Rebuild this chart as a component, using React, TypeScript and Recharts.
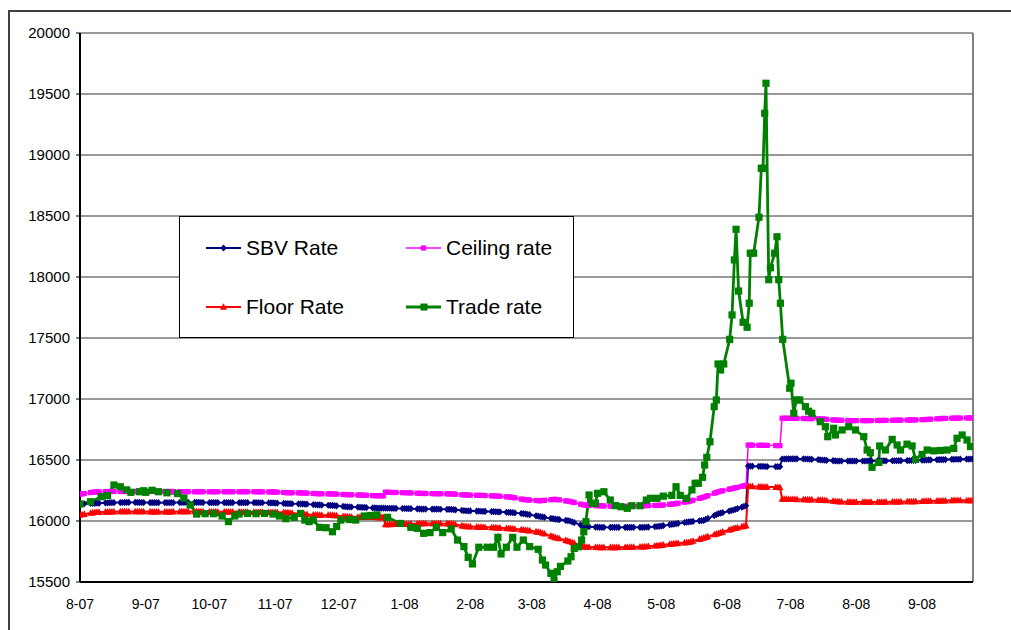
import React from 'react';
import { LineChart, Line, XAxis, YAxis, CartesianGrid, ReferenceLine } from 'recharts';

// ---- tick labels ----
const monthTicks = [0, 31, 61, 92, 122, 153, 184, 213, 244, 274, 305, 335, 366, 397];
const monthLabels = ['8-07', '9-07', '10-07', '11-07', '12-07', '1-08', '2-08', '3-08', '4-08', '5-08', '6-08', '7-08', '8-08', '9-08'];
const valueTicks = [15500, 16000, 16500, 17000, 17500, 18000, 18500, 19000, 19500, 20000];

// ---- band series (days since 1 Aug 2007) ----
const bandDays = [
  0, 7, 14, 21, 28, 35, 42, 49, 56, 63, 70, 77, 84, 91, 98, 105, 112, 119, 126, 133, 140,
  143, 144, 147, 154, 161, 168, 175, 182, 189, 196, 203, 210, 217, 224, 231, 238, 245, 252,
  259, 266, 273, 280, 287, 294, 301, 308, 314, 315, 322, 330, 331, 336, 343, 350, 357, 364,
  371, 378, 385, 392, 399, 406, 413, 420,
];
const sbvRate = [
  16140, 16145, 16150, 16152, 16152, 16150, 16150, 16152, 16152, 16150, 16150, 16150, 16150, 16148, 16142, 16140, 16132, 16128, 16116, 16112, 16106,
  16105, 16105, 16104, 16102, 16098, 16097, 16095, 16084, 16080, 16076, 16070, 16058, 16036, 16016, 16000, 15955, 15948, 15948,
  15948, 15948, 15956, 15975, 15993, 16005, 16060, 16090, 16125, 16450, 16447, 16445, 16508, 16510, 16508, 16500, 16492, 16492,
  16492, 16493, 16494, 16496, 16500, 16503, 16506, 16508,
];
const ceilingRate = [
  16220, 16238, 16242, 16242, 16242, 16242, 16242, 16240, 16240, 16240, 16240, 16240, 16240, 16238, 16232, 16230, 16224, 16222, 16216, 16212, 16207,
  16206, 16236, 16234, 16232, 16226, 16224, 16222, 16213, 16210, 16205, 16196, 16174, 16166, 16178, 16160, 16130, 16125, 16120,
  16120, 16126, 16128, 16140, 16160, 16195, 16240, 16268, 16292, 16622, 16620, 16618, 16842, 16842, 16840, 16836, 16826, 16823,
  16823, 16824, 16826, 16828, 16832, 16840, 16843, 16845,
];
const floorRate = [
  16050, 16072, 16076, 16078, 16078, 16076, 16076, 16078, 16078, 16076, 16076, 16074, 16073, 16072, 16070, 16056, 16050, 16048, 16036, 16032, 16030,
  16030, 15972, 15973, 15975, 15980, 15980, 15978, 15956, 15950, 15946, 15938, 15926, 15908, 15866, 15832, 15788, 15784, 15784,
  15785, 15790, 15800, 15815, 15826, 15862, 15900, 15938, 15962, 16285, 16280, 16276, 16180, 16178, 16176, 16172, 16160, 16156,
  16155, 16156, 16158, 16160, 16163, 16166, 16170, 16168,
];

// ---- trade rate ----
const tradeDays = [
  0, 5, 10, 13, 16, 19, 22, 24, 28, 30, 31, 34, 37, 41, 46, 49, 52, 55, 59, 63, 67, 70, 73, 75, 79, 83, 87, 91, 94, 97,
  101, 104, 106, 108, 110, 113, 116, 119, 121, 123, 127, 130, 134, 137, 140, 145, 151, 156, 159, 162, 165, 168, 171, 175,
  178, 181, 183, 185, 188, 192, 195, 197, 198.5, 201, 204, 206, 209, 212, 216, 218, 219.5, 222, 223.5, 225, 226.5, 230,
  231.5, 233, 235, 236.5, 237.5, 238.5, 240, 241.5, 243, 244, 247, 250, 252.5, 255, 258, 260, 264, 267, 269, 272, 275, 279,
  281, 283, 286, 288.5, 290, 291.5, 293.5, 294.5, 295.5, 297, 299, 300, 300.8, 302, 303.5, 306.3, 307.4, 308.5, 309.3,
  310.5, 312.6, 314.5, 315.5, 316, 317.6, 320.1, 321.2, 322, 322.8, 323.4, 324.7, 325.5, 327.5, 328.6, 329.4, 330.2, 331.3,
  334.6, 335.2, 336.5, 337.7, 339.3, 342, 343.5, 345, 349, 351.4, 352.5, 355.3, 356.1, 359.3, 362.4, 365.6, 369.5, 371.1,
  372.6, 373.4, 376.6, 377, 379.7, 382.9, 385.2, 386.8, 389.9, 392.3, 393.9, 397, 399.4, 402.5, 405.7, 408.8, 411.9, 413.5,
  415.9, 418.2, 419.8,
];
const tradeRate = [
  16139, 16158, 16199, 16210, 16295, 16281, 16255, 16235, 16240, 16248, 16235, 16252, 16240, 16231, 16225, 16188, 16131, 16057, 16060, 16060, 16041, 15995, 16041, 16057, 16062, 16060, 16062, 16057, 16041, 16019,
  16030, 16062, 16008, 15995, 16008, 15948, 15945, 15912, 15955, 16008, 16012, 16008, 16041, 16045, 16050, 16030, 15980, 15948, 15940, 15899, 15905, 15948, 15905, 15935,
  15844, 15790, 15702, 15648, 15785, 15785, 15785, 15866, 15730, 15785, 15866, 15785, 15844, 15790, 15768, 15680, 15639, 15571, 15511, 15584, 15628, 15672,
  15707, 15775, 15789, 15844, 15912, 15994, 16213, 16145, 16145, 16227, 16240, 16172, 16126, 16117, 16104, 16125, 16125, 16172, 16186, 16186, 16204, 16210,
  16281, 16210, 16185, 16255, 16309, 16309, 16358, 16459, 16522, 16650, 16937, 16992, 17287, 17238, 17287, 17489, 17689, 18140, 18391,
  17885, 17629, 17588, 17785, 18195, 18195, 18490, 18891, 18891, 19342, 19588, 17978, 18076, 18195, 18330, 17978, 17785, 17489,
  17088, 17130, 16883, 16992, 16992, 16937, 16900, 16883, 16814, 16773, 16691, 16760, 16705, 16746, 16773, 16746, 16691, 16582,
  16560, 16440, 16480, 16615, 16582, 16669, 16623, 16582, 16630, 16615, 16505, 16546, 16582, 16575, 16578, 16582, 16595, 16678,
  16705, 16664, 16610,
];

// ---- layout ----
const CHART_W = 1011;
const CHART_H = 630;
const PLOT_LEFT = 80;
const PLOT_TOP = 33;
const PLOT_RIGHT = 973;
const PLOT_BOTTOM = 582;
const X_MIN = 0;
const X_MAX = 421;
const Y_MIN = 15500;
const Y_MAX = 20000;
const PX_PER_UNIT = (PLOT_BOTTOM - PLOT_TOP) / (Y_MAX - Y_MIN);

const NAVY = '#000080';
const MAGENTA = '#FF00FF';
const RED = '#FF0000';
const GREEN = '#008000';

const toRows = (days: number[], values: number[]) => days.map((d, i) => ({ day: d, value: values[i] }));
const sbvData = toRows(bandDays, sbvRate);
const ceilingData = toRows(bandDays, ceilingRate);
const floorData = toRows(bandDays, floorRate);
const tradeData = toRows(tradeDays, tradeRate);

type Shape = 'diamond' | 'square' | 'triangle';

function marker(shape: Shape, x: number, y: number, color: string, key: string) {
  if (shape === 'diamond') {
    return <path key={key} d={`M${x},${y - 3.6}L${x + 3.2},${y}L${x},${y + 3.6}L${x - 3.2},${y}Z`} fill={color} />;
  }
  if (shape === 'square') {
    return <rect key={key} x={x - 2.6} y={y - 2.6} width={5.2} height={5.2} fill={color} />;
  }
  return <path key={key} d={`M${x},${y - 3.8}L${x + 3.5},${y + 2.8}L${x - 3.5},${y + 2.8}Z`} fill={color} />;
}

// each weekly reading is drawn as the cluster of daily markers around it
const makeClusterDot = (values: number[], shape: Shape, color: string) => (props: any) => {
  const { cx, cy, index } = props;
  if (cx == null || cy == null || isNaN(cx) || isNaN(cy)) return <g key={`e-${index}`} />;
  const pxPerDay = (PLOT_RIGHT - PLOT_LEFT) / (X_MAX - X_MIN);
  const day = bandDays[index];
  const prevGap = index > 0 ? day - bandDays[index - 1] : Infinity;
  const nextGap = index < bandDays.length - 1 ? bandDays[index + 1] - day : Infinity;
  const items: React.ReactNode[] = [];
  for (let o = -2; o <= 2; o++) {
    const d = day + o;
    if (d < X_MIN || d > X_MAX) continue;
    if (o < 0 && !(-o < prevGap / 2)) continue;
    if (o > 0 && !(o < nextGap / 2)) continue;
    let y = cy;
    if (o < 0 && index > 0) y = cy - (values[index - 1] - values[index]) * PX_PER_UNIT * (-o / prevGap);
    if (o > 0 && index < values.length - 1) y = cy - (values[index + 1] - values[index]) * PX_PER_UNIT * (o / nextGap);
    items.push(marker(shape, cx + o * pxPerDay, y, color, `m${o}`));
  }
  return <g key={`c-${index}`}>{items}</g>;
};

const tradeDot = (props: any) => {
  const { cx, cy, index } = props;
  if (cx == null || cy == null || isNaN(cx) || isNaN(cy)) return <g key={`t-${index}`} />;
  return <rect key={`t-${index}`} x={cx - 3.6} y={cy - 3.6} width={7.2} height={7.2} fill={GREEN} />;
};

const labelFor = (v: number) => {
  const i = monthTicks.indexOf(v);
  return i >= 0 ? monthLabels[i] : '';
};

const FONT = '"Liberation Sans", Arial, Helvetica, sans-serif';

function LegendItem({ left, top, color, shape, lineWidth, label, big }: any) {
  return (
    <div style={{ position: 'absolute', left, top: top - 14, height: 28, display: 'flex', alignItems: 'center' }}>
      <svg width={36} height={14} style={{ display: 'block' }}>
        <line x1={0} y1={7} x2={35} y2={7} stroke={color} strokeWidth={lineWidth} />
        {big ? (
          <rect x={14.5} y={3.5} width={7} height={7} fill={color} />
        ) : (
          marker(shape, 17.5, 7, color, 'lg')
        )}
      </svg>
      <span style={{ marginLeft: 4, fontSize: 21, color: '#000', fontFamily: FONT, whiteSpace: 'nowrap' }}>{label}</span>
    </div>
  );
}

export default function App() {
  return (
    <div style={{ position: 'fixed', left: 0, top: 0, width: CHART_W, height: CHART_H, overflow: 'hidden', background: '#fff', fontFamily: FONT }}>
      <div style={{ position: 'absolute', left: 8, top: 10, width: 1040, height: 660, border: '2px solid #404040', boxSizing: 'border-box' }} />
      <div style={{ position: 'absolute', left: 0, top: 0 }}>
        <LineChart
          width={CHART_W}
          height={CHART_H}
          margin={{ top: PLOT_TOP, right: CHART_W - PLOT_RIGHT, bottom: 0, left: 0 }}
        >
          <CartesianGrid vertical={false} stroke="#333" strokeWidth={1} />
          <XAxis
            dataKey="day"
            type="number"
            domain={[X_MIN, X_MAX]}
            ticks={monthTicks}
            tickFormatter={labelFor}
            allowDataOverflow
            height={CHART_H - PLOT_BOTTOM}
            tickLine={false}
            tickSize={0}
            tickMargin={17}
            axisLine={{ stroke: '#000', strokeWidth: 2 }}
            tick={{ fill: '#000', fontSize: 14, fontFamily: FONT }}
            interval={0}
          />
          <XAxis
            xAxisId="top"
            orientation="top"
            dataKey="day"
            type="number"
            domain={[X_MIN, X_MAX]}
            ticks={monthTicks}
            allowDataOverflow
            height={0}
            mirror
            tick={false}
            tickSize={4}
            tickLine={{ stroke: '#666', strokeWidth: 1.5 }}
            axisLine={{ stroke: '#000', strokeWidth: 1.5 }}
            interval={0}
          />
          <YAxis
            type="number"
            domain={[Y_MIN, Y_MAX]}
            ticks={valueTicks}
            allowDataOverflow
            width={PLOT_LEFT}
            tickSize={4}
            tickMargin={6}
            tickLine={{ stroke: '#000' }}
            axisLine={{ stroke: '#000', strokeWidth: 2 }}
            tick={{ fill: '#000', fontSize: 15, fontFamily: FONT }}
            interval={0}
          />
          <ReferenceLine x={X_MAX} stroke="#808080" strokeWidth={2} />
          <Line
            data={sbvData}
            dataKey="value"
            type="linear"
            stroke={NAVY}
            strokeWidth={1.8}
            dot={makeClusterDot(sbvRate, 'diamond', NAVY)}
            activeDot={false}
            isAnimationActive={false}
            name="SBV Rate"
          />
          <Line
            data={ceilingData}
            dataKey="value"
            type="linear"
            stroke={MAGENTA}
            strokeWidth={1.5}
            dot={makeClusterDot(ceilingRate, 'square', MAGENTA)}
            activeDot={false}
            isAnimationActive={false}
            name="Ceiling rate"
          />
          <Line
            data={floorData}
            dataKey="value"
            type="linear"
            stroke={RED}
            strokeWidth={2}
            dot={makeClusterDot(floorRate, 'triangle', RED)}
            activeDot={false}
            isAnimationActive={false}
            name="Floor Rate"
          />
          <Line
            data={tradeData}
            dataKey="value"
            type="linear"
            stroke={GREEN}
            strokeWidth={2.8}
            dot={tradeDot}
            activeDot={false}
            isAnimationActive={false}
            name="Trade rate"
          />
        </LineChart>
      </div>
      <div
        style={{
          position: 'absolute',
          left: 179,
          top: 216,
          width: 395,
          height: 122,
          border: '1px solid #000',
          boxSizing: 'border-box',
          background: '#fff',
        }}
      >
        <LegendItem left={26} top={31} color={NAVY} shape="diamond" lineWidth={2} label="SBV Rate" />
        <LegendItem left={226} top={31} color={MAGENTA} shape="square" lineWidth={1.5} label="Ceiling rate" />
        <LegendItem left={26} top={90} color={RED} shape="triangle" lineWidth={2.2} label="Floor Rate" />
        <LegendItem left={226} top={90} color={GREEN} shape="square" lineWidth={3} label="Trade rate" big />
      </div>
    </div>
  );
}
